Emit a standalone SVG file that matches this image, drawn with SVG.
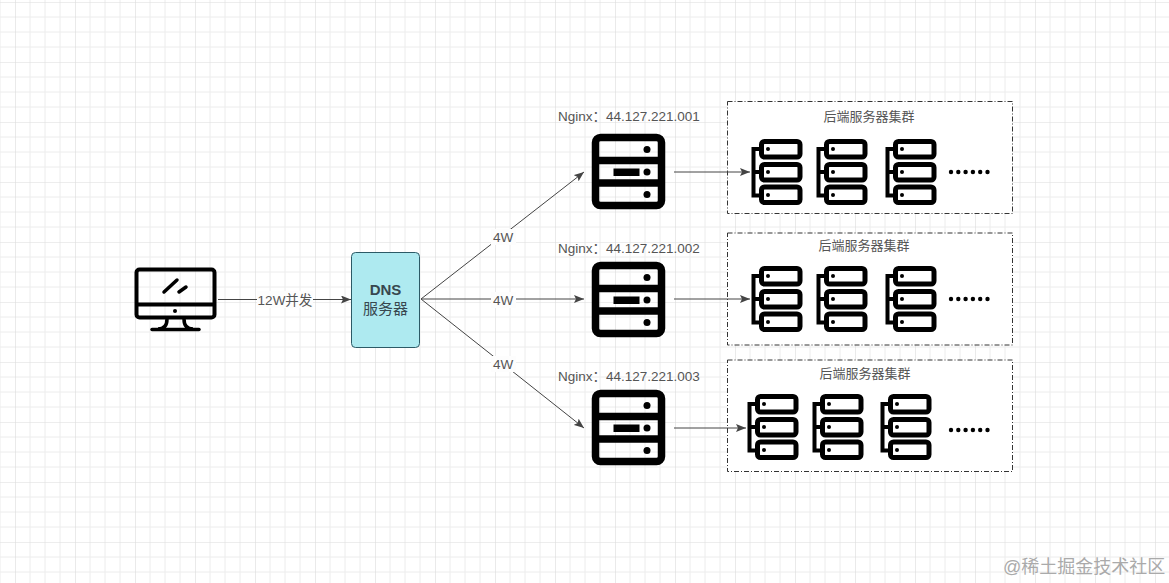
<svg xmlns="http://www.w3.org/2000/svg" width="1169" height="583" viewBox="0 0 1169 583">
<style>
text{font-family:"Liberation Sans","Noto Sans CJK SC",sans-serif;fill:#555}
.lbl{font-size:13.5px;text-anchor:middle}
.ng{font-size:13.5px}
.title{font-size:13px;text-anchor:middle}
.edge{stroke:#444;stroke-width:1;fill:none;marker-end:url(#arrow)}
.box{fill:#fff;stroke:#333;stroke-width:1;stroke-dasharray:5 2 1 2}
.lb{fill:#fdfdfd}
.ink{fill:none;stroke:#000}
</style>
<defs>
<pattern id="grid" width="60" height="60" patternUnits="userSpaceOnUse" x="15" y="2">
<path d="M15 0V60M30 0V60M45 0V60M0 15H60M0 30H60M0 45H60" stroke="#ececec" stroke-width="1" fill="none"/>
<path d="M0 0V60M0 0H60" stroke="#dcdcdc" stroke-width="1.2" fill="none"/>
</pattern>
<marker id="arrow" viewBox="0 0 10 8" refX="10" refY="4" markerWidth="10" markerHeight="8" markerUnits="userSpaceOnUse" orient="auto"><path d="M0 0L10 4L0 8L2 4Z" fill="#444"/></marker>
<g id="server">
<rect x="595.5" y="137.5" width="66" height="68" rx="5" class="ink" stroke-width="7.5"/>
<path d="M596 160.500H661M596 183H661" class="ink" stroke-width="7.500"/>
<circle cx="647" cy="149.500" r="3.500"/><circle cx="647" cy="172" r="3.500"/><circle cx="647" cy="194.500" r="3.500"/>
<rect x="613.500" y="168.500" width="26" height="7.500"/>
</g>
<g id="rack">
<rect x="761.500" y="141.500" width="38.500" height="15.500" rx="3" class="ink" stroke-width="5"/>
<rect x="761.500" y="164.500" width="38.500" height="15.500" rx="3" class="ink" stroke-width="5"/>
<rect x="761.500" y="187" width="38.500" height="15.500" rx="3" class="ink" stroke-width="5"/>
<path d="M760 149H753.500V195.500H760M753.500 172H760" class="ink" stroke-width="4"/>
<circle cx="768" cy="149" r="2"/><circle cx="768" cy="172" r="2"/><circle cx="768" cy="195" r="2"/>
</g>
<g id="dots">
<circle cx="951" cy="172" r="2.200"/><circle cx="958.300" cy="172" r="2.200"/><circle cx="965.600" cy="172" r="2.200"/><circle cx="972.900" cy="172" r="2.200"/><circle cx="980.200" cy="172" r="2.200"/><circle cx="987.500" cy="172" r="2.200"/>
</g>
</defs>
<rect width="1169" height="583" fill="#fff"/>
<rect width="1169" height="583" fill="url(#grid)"/>

<g id="connectors">
<path class="edge" d="M218 299.500H351"/>
<path class="edge" d="M421 299L584 172"/>
<path class="edge" d="M421 299H584"/>
<path class="edge" d="M421 299L584 428"/>
</g>

<g id="cluster-1"><rect class="box" x="727.500" y="101.500" width="285" height="112"/><text class="title" x="869" y="121">后端服务器集群</text>
<use href="#rack"/><use href="#rack" x="65"/><use href="#rack" x="134"/><use href="#dots"/></g>
<g id="cluster-2"><rect class="box" x="727.500" y="233" width="285" height="112"/><text class="title" x="864" y="250">后端服务器集群</text>
<use href="#rack" y="127"/><use href="#rack" x="65" y="127"/><use href="#rack" x="134" y="127"/><use href="#dots" y="127"/></g>
<g id="cluster-3"><rect class="box" x="727.500" y="360" width="285" height="111.500"/><text class="title" x="865" y="378">后端服务器集群</text>
<use href="#rack" x="-4" y="255"/><use href="#rack" x="61" y="255"/><use href="#rack" x="129" y="255"/><use href="#dots" y="258"/></g>

<g id="connectors-backend">
<path class="edge" d="M674 172H750"/>
<path class="edge" d="M674 299H750"/>
<path class="edge" d="M674 428H746"/>
</g>

<g id="client">
<rect x="136.500" y="269.500" width="78" height="48" rx="3" class="ink" stroke-width="4"/>
<path d="M137 304.500H214" class="ink" stroke-width="4"/>
<path d="M164 292L177 280M179 292L186 287" class="ink" stroke-width="3.500" stroke-linecap="round"/>
<circle cx="175" cy="311" r="2"/>
<path d="M167 319C167 326 164 329 158 329M184 319C184 326 187 329 193 329" class="ink" stroke-width="3.500"/>
<path d="M152 329.500H199" class="ink" stroke-width="3.500" stroke-linecap="round"/>
</g>

<g id="dns">
<rect x="351.500" y="252.500" width="68" height="95" rx="4" fill="#aeeaf0" stroke="#2c5a66"/>
<text x="385.500" y="295" text-anchor="middle" font-size="15" font-weight="bold" style="fill:#37474f">DNS</text>
<text x="385.500" y="314" text-anchor="middle" font-size="15" style="fill:#37474f">服务器</text>
</g>

<g id="nginx-1"><text class="ng" x="558" y="121">Nginx：44.127.221.001</text><use href="#server"/></g>
<g id="nginx-2"><text class="ng" x="558" y="253">Nginx：44.127.221.002</text><use href="#server" y="128"/></g>
<g id="nginx-3"><text class="ng" x="558" y="381">Nginx：44.127.221.003</text><use href="#server" y="256"/></g>

<g id="edge-labels">
<rect class="lb" x="257" y="291" width="56" height="17"/><text class="lbl" x="285" y="305">12W并发</text>
<rect class="lb" x="491" y="229" width="25" height="16"/><text class="lbl" x="503" y="242">4W</text>
<rect class="lb" x="491" y="292" width="25" height="16"/><text class="lbl" x="503" y="305">4W</text>
<rect class="lb" x="491" y="356" width="25" height="16"/><text class="lbl" x="503" y="369">4W</text>
</g>

<text x="1003" y="573" font-size="18" style="fill:#aaa">@稀土掘金技术社区</text>
</svg>
